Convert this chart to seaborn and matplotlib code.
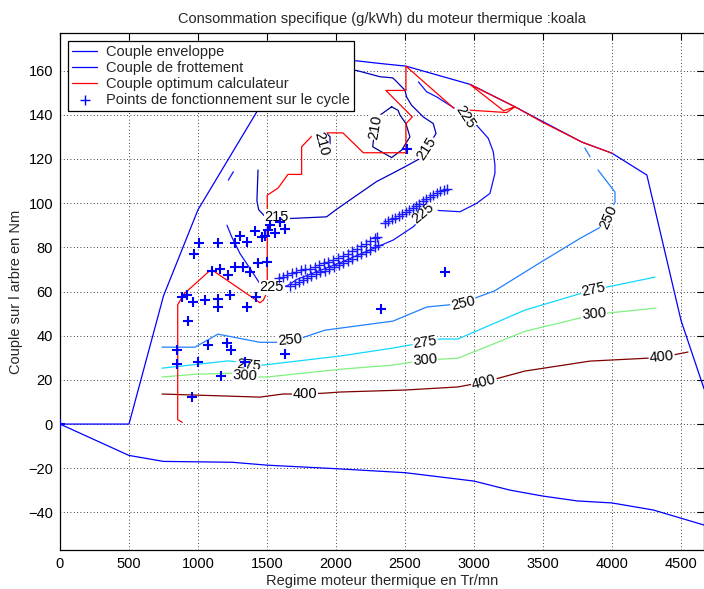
import matplotlib
matplotlib.use("Agg")
import matplotlib.pyplot as plt
import seaborn as sns
import numpy as np

# ---------------- data ----------------
env_x = [0, 500, 750, 1000, 1250, 1500, 1750, 2000, 2150, 2320, 2507, 2975, 3297, 3478, 3783, 4000, 4253, 4500, 4667]
env_y = [0, 0, 58, 97, 123, 149, 162, 164.5, 164.4, 163.2, 162, 153.7, 143.6, 137.6, 127.6, 122.6, 112.7, 47, 16]

frot_x = [0, 500, 750, 1250, 1500, 2000, 2500, 3000, 3261, 3500, 3750, 4000, 4300, 4500, 4667]
frot_y = [0, -14.2, -16.9, -17.3, -18.6, -20.2, -22, -25.8, -29.9, -32.6, -34.8, -35.7, -38.9, -42.6, -45.7]

opt_x = [886, 853, 853, 900, 1085, 1110, 1400, 1449, 1474, 1502, 1502, 1580, 1652, 1751, 1751, 1848, 2050,
         2198, 2507, 2507, 2553, 2362, 2507, 2507, 2862, 3237, 3297, 2971, 3215, 3297, 3500, 3783, 4000]
opt_y = [0.8, 2, 54, 59, 69.4, 69.4, 57, 54.9, 56.1, 60, 103.6, 106.8, 113, 113, 125.5, 131.8, 131.8,
         122.8, 122.8, 136, 139, 151, 151, 162, 142.5, 141, 143.6, 153.7, 141.8, 143.6, 136.5, 127.6, 122.6]

# operating points
pts_x = [0, 1010, 973, 1147, 1304, 1270, 1353, 1413, 1462, 1486, 1510, 1558, 1630, 1594, 1522,
         1099, 1159, 1215, 1268, 1328, 1377, 1432, 1498,
         882, 918, 961, 1051, 1147, 1147, 1232, 1353, 1420, 930,
         850, 1075, 1213, 1237, 1630, 850, 1002, 1341, 1164, 954, 2326, 2790, 2512]
pts_y = [0, 81.8, 76.9, 82, 85.1, 81.8, 82.2, 87.3, 84.5, 85.1, 87.8, 86.4, 88.2, 91.4, 90,
         69.4, 70, 67.4, 71.2, 71.2, 68.9, 72.7, 73.2,
         57.6, 58.4, 55.3, 56.1, 56.4, 52.8, 58.4, 53.1, 57.6, 46.7,
         33.5, 35.7, 36.5, 33.5, 31.7, 27.4, 27.9, 28.2, 21.7, 12.4, 51.9, 68.9, 124.7]
bandA_x = [1585, 1615, 1648, 1680, 1712, 1745, 1778, 1812, 1845, 1878, 1912, 1945, 1980, 2015, 2053,
           2085, 2118, 2150, 2182, 2215, 2248, 2280, 2298]
bandA_y = [65.9, 66.7, 67.5, 68.3, 69.0, 69.6, 70.0, 70.4, 71.2, 71.9, 72.7, 73.5, 74.3, 75.1, 76.0,
           77.1, 78.2, 79.3, 80.5, 81.7, 82.9, 84.0, 84.8]
bandB_x = [1670, 1700, 1730, 1760, 1790, 1820, 1852, 1885, 1918, 1950, 1985, 2020, 2053, 2085, 2118,
           2150, 2182, 2215, 2248, 2280, 2307]
bandB_y = [62.3, 63.2, 64.3, 65.3, 66.3, 67.2, 68.0, 68.7, 69.5, 70.3, 71.1, 71.9, 72.7, 73.8, 74.9,
           75.9, 77.0, 78.0, 79.0, 80.1, 81.0]
bandC_x = [2355, 2380, 2405, 2430, 2455, 2480, 2505, 2530, 2555, 2580, 2605, 2630, 2655, 2680, 2705,
           2730, 2755, 2780, 2802]
bandC_y = [90.8, 91.7, 92.6, 93.4, 94.3, 95.1, 96.0, 96.9, 97.8, 98.8, 99.8, 100.8, 101.9, 102.9, 103.8,
           104.6, 105.3, 106.0, 106.6]

# iso-consumption contours
c210a_x = [1885, 1910, 1935, 1957, 1957, 1942]
c210a_y = [132.5, 131.8, 131.5, 130, 127, 125.6]
c210b_x = [2403, 2450, 2464, 2507, 2536, 2476, 2403, 2266, 2283, 2319, 2403]
c210b_y = [143.6, 142, 139.8, 136, 130, 124, 120.6, 125.5, 134.5, 139.8, 143.6]
c215_x = [1435, 1427, 1440, 1485, 1572, 1654, 1932, 2000, 2126, 2295, 2413, 2522, 2609, 2657, 2725,
          2705, 2633, 2548, 2512, 2500, 2428, 2411, 2319, 2152, 2080]
c215_y = [115, 101, 97, 94, 93.5, 93, 93.8, 97, 102.5, 109.8, 113.6, 117.2, 120.2, 124.7, 131.5,
          136, 139, 144.3, 148, 151.1, 155.7, 156.7, 157.2, 160, 160.3]
c225_x = [1210, 1244, 1304, 1377, 1449, 1536, 1645, 1717, 2029, 2415, 2560, 2633, 2705, 2899, 3019,
          3116, 3152, 3152, 3140, 3104, 3019, 2935, 2862, 2729, 2657, 2597]
c225_y = [90, 84.8, 77.2, 70.4, 63.5, 62, 62.5, 65.5, 73, 83.3, 89.3, 94, 96.8, 96.1, 99.9,
          104.4, 113.5, 117.2, 123.2, 129.3, 135.3, 139, 142.8, 148.1, 150.4, 154.9]
c225s_x = [1220, 1256]
c225s_y = [110.4, 114.2]
c250_x = [739, 978, 1145, 1449, 1572, 1667, 1753, 1920, 2029, 2413, 2659, 2826, 2920, 3150, 3478,
          3768, 3913, 3971, 4022, 4022, 3899]
c250_y = [34.8, 34.8, 40.7, 37, 37, 38, 39, 42.5, 43.4, 46.6, 53, 54, 55, 60.3, 73,
          84, 89, 94, 100.5, 105, 115]
c250s_x = [3804, 3841]
c250s_y = [125, 121]
c275_x = [739, 1220, 1304, 1365, 1473, 2029, 2413, 2645, 2754, 2884, 3370, 3768, 3865, 3964, 4312]
c275_y = [25.3, 28.6, 28, 27, 26.7, 30.8, 34.4, 37, 38.5, 38.5, 51.6, 59, 61, 62, 66.5]
c300_x = [739, 993, 1254, 1341, 1435, 1500, 2029, 2413, 2645, 2884, 3370, 3768, 3870, 3964, 4319]
c300_y = [21.3, 22.6, 23, 22, 21.3, 21.3, 24.8, 26.7, 29, 29.8, 42, 48, 49.8, 50.2, 52.5]
c400_x = [739, 1449, 1616, 1775, 1920, 2029, 2500, 2884, 3072, 3370, 3841, 4254, 4362, 4551]
c400_y = [13.6, 12.2, 13.6, 13.6, 14, 14.5, 15.4, 16.8, 19, 24, 28.5, 29.8, 30.3, 32.6]

lab_txt = ["210", "210", "215", "215", "225", "225", "225", "250", "250", "250",
           "275", "275", "275", "300", "300", "300", "400", "400", "400"]
lab_x = [1896, 2283, 1570, 2657, 1534, 2633, 2935, 1667, 2923, 3973,
         1365, 2645, 3865, 1341, 2645, 3870, 1775, 3072, 4360]
lab_y = [127, 134.5, 93.8, 124.7, 61.9, 95.3, 139, 38, 54.6, 93.8,
         26.7, 37.2, 61, 21.7, 29, 49.8, 13.6, 19.1, 30.5]
lab_rot = [-75, 80, 0, 57, 0, 40, -57, 5, 13, 66,
           -6, 8, 12, -3, 5, 5, 0, 14, 5]

# ---------------- style ----------------
FS = 10.5
sns.set_theme(style="white")
plt.rcParams["font.family"] = ["Liberation Sans", "DejaVu Sans"]
plt.rcParams["font.size"] = FS

fig = plt.figure(figsize=(7.04, 5.89), dpi=100)
ax = fig.add_axes([60 / 704, 1 - 550 / 589, 644 / 704, 517 / 589])


def line(x, y, color, lw=0.9, z=2):
    n = len(ax.lines)
    sns.lineplot(x=x, y=y, sort=False, estimator=None, color=color, lw=lw, ax=ax, zorder=z)
    return ax.lines[n]


c_col = {"210": "#000090", "215": "#0000c0", "225": "#1010ff", "250": "#2080ff",
         "275": "#10d8ff", "300": "#80f080", "400": "#800000"}

line(c210a_x, c210a_y, c_col["210"])
line(c210b_x, c210b_y, c_col["210"])
line(c215_x, c215_y, c_col["215"])
line(c225_x, c225_y, c_col["225"])
line(c225s_x, c225s_y, c_col["225"])
line(c250_x, c250_y, c_col["250"])
line(c250s_x, c250s_y, c_col["250"])
line(c275_x, c275_y, c_col["275"])
line(c300_x, c300_y, c_col["300"])
line(c400_x, c400_y, c_col["400"])

h_env = line(env_x, env_y, "#0000ff", z=2.2)
h_frot = line(frot_x, frot_y, "#0000ff", z=2.2)
h_opt = line(opt_x, opt_y, "#ff0000", z=2.3)

for t, x, y, r in zip(lab_txt, lab_x, lab_y, lab_rot):
    ax.text(x, y, t, rotation=r, rotation_mode="anchor", ha="center", va="center",
            fontsize=FS, color="black", zorder=3,
            bbox=dict(boxstyle="square,pad=0.05", fc="white", ec="none"))

band_x = bandA_x + bandB_x + bandC_x
band_y = bandA_y + bandB_y + bandC_y
sns.scatterplot(x=band_x, y=band_y, marker="+", s=55, linewidth=1.0, color="#1a1aff",
                ax=ax, zorder=4, legend=False)
sns.scatterplot(x=pts_x, y=pts_y, marker="+", s=60, linewidth=1.5, color="#0000ff",
                ax=ax, zorder=4, legend=False)
h_pts = ax.collections[-1]

ax.set_xlim(0, 4667)
ax.set_ylim(-57, 177)
ax.set_xticks(np.arange(0, 4501, 500))
ax.set_yticks(np.arange(-40, 161, 20))
ax.grid(True, color="black", linestyle=(0, (1, 3)), linewidth=0.6)
ax.set_axisbelow(True)
for s in ax.spines.values():
    s.set_color("black")
    s.set_linewidth(0.9)
ax.tick_params(direction="in", top=True, right=True, length=5, width=0.8,
               labelsize=FS, colors="black", pad=5)

ax.set_title("Consommation specifique (g/kWh) du moteur thermique :koala", fontsize=FS, pad=7)
ax.set_xlabel("Regime moteur thermique en Tr/mn", fontsize=FS, labelpad=2)
ax.set_ylabel("Couple sur l arbre en Nm", fontsize=FS, labelpad=4)

leg = ax.legend([h_env, h_frot, h_opt, h_pts],
                ["Couple enveloppe", "Couple de frottement", "Couple optimum calculateur",
                 "Points de fonctionnement sur le cycle"],
                loc="upper left", borderaxespad=0.55, frameon=True, fancybox=False,
                edgecolor="black", framealpha=1, handlelength=1.7, handletextpad=0.6,
                labelspacing=0.12, borderpad=0.3, scatterpoints=1, fontsize=FS)
leg.get_frame().set_linewidth(0.9)
leg.set_zorder(10)
leg.legend_handles[3].set_linewidth(1.0)

fig.savefig("out.png", dpi=100)
